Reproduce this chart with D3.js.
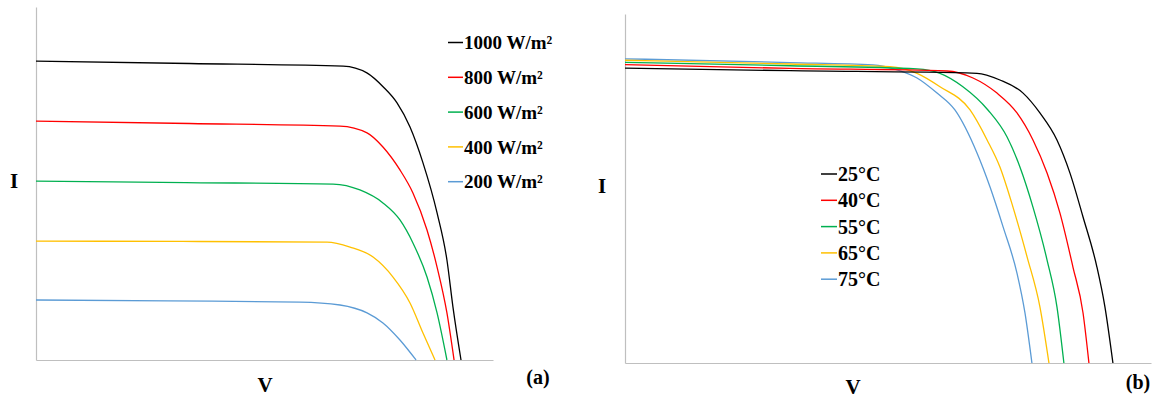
<!DOCTYPE html>
<html>
<head>
<meta charset="utf-8">
<script src="https://cdn.jsdelivr.net/npm/d3@7"></script>
<style>
  html, body { margin: 0; padding: 0; background: #fff; }
  svg { display: block; }
  text { font-family: "Liberation Serif", "Times New Roman", serif; font-weight: bold; fill: #000; }
</style>
</head>
<body>
<svg id="chart" width="1158" height="399"></svg>
<script>
// ---- (a) I-V curves at different irradiance levels (25 °C) ----
const irradianceLabels = ["1000 W/m²", "800 W/m²", "600 W/m²", "400 W/m²", "200 W/m²"];
const irrV1000 = [0, 8.4, 16.8, 18.1, 19.0, 19.75, 20.46, 21.17, 21.94, 22.48, 22.81, 23.25];
const irrI1000 = [10.16, 10.08, 9.99, 9.76, 9.28, 8.74, 7.92, 6.70, 5.00, 3.40, 1.80, 0];
const irrV800  = [0, 8.4, 16.63, 18.11, 18.98, 19.91, 20.62, 21.39, 21.94, 22.48, 22.87];
const irrI800  = [8.12, 8.04, 7.95, 7.72, 7.24, 6.46, 5.68, 4.42, 3.16, 1.60, 0];
const irrV600  = [0, 8.2, 16.25, 17.72, 18.98, 19.91, 20.62, 21.39, 21.94, 22.48];
const irrI600  = [6.08, 6.03, 5.98, 5.78, 5.34, 4.76, 3.98, 2.82, 1.60, 0];
const irrV400  = [0, 8.0, 15.92, 17.18, 18.44, 19.53, 20.46, 21.17, 21.83];
const irrI400  = [4.04, 4.03, 4.01, 3.84, 3.50, 2.82, 1.94, 0.92, 0];
const irrV200  = [0, 7.2, 14.44, 16.63, 18.11, 18.98, 19.91, 20.79];
const irrI200  = [2.04, 2.01, 1.97, 1.87, 1.60, 1.26, 0.68, 0];

// ---- (b) I-V curves at different cell temperatures (1000 W/m²) ----
const temperatureLabels = ["25°C", "40°C", "55°C", "65°C", "75°C"];
const tmpV25 = [0, 7.84, 16.73, 17.82, 18.92, 19.72, 20.53, 21.15, 21.77, 22.43, 22.81, 23.19];
const tmpI25 = [10.14, 10.05, 9.96, 9.73, 9.28, 8.60, 7.67, 6.53, 5.02, 3.30, 1.93, 0];
const tmpV40 = [0, 7.84, 15.30, 16.54, 17.68, 18.63, 19.39, 20.06, 20.67, 21.29, 21.77, 22.05];
const tmpI40 = [10.26, 10.13, 10.04, 9.80, 9.28, 8.60, 7.67, 6.53, 5.16, 3.30, 1.72, 0];
const tmpV55 = [0, 7.84, 13.88, 14.97, 16.06, 17.25, 18.16, 18.77, 19.39, 20.06, 20.53, 20.86];
const tmpI55 = [10.34, 10.22, 10.11, 9.96, 9.50, 8.70, 7.77, 6.74, 5.36, 3.54, 1.93, 0];
const tmpV65 = [0, 7.84, 12.60, 13.88, 14.97, 16.40, 17.21, 17.82, 18.44, 19.11, 19.72, 20.15];
const tmpI65 = [10.41, 10.28, 10.19, 9.96, 9.50, 8.70, 7.67, 6.74, 5.36, 3.65, 1.93, 0];
const tmpV75 = [0, 7.84, 11.79, 12.93, 13.88, 14.83, 15.68, 16.73, 17.35, 17.97, 18.63, 19.01, 19.34];
const tmpI75 = [10.46, 10.33, 10.25, 10.08, 9.80, 9.28, 8.70, 7.22, 6.05, 4.68, 3.09, 1.72, 0];

const seriesColors = ["#000000", "#ff0000", "#00b050", "#ffc000", "#5b9bd5"];

const zipCurve = (vs, is) => vs.map((v, k) => ({ v, i: is[k] }));

const panels = [
  {
    tag: "(a)",
    box: { left: 36, right: 493, top: 7, bottom: 360 },
    vMax: 25, iMax: 12,
    curves: [
      zipCurve(irrV1000, irrI1000), zipCurve(irrV800, irrI800), zipCurve(irrV600, irrI600),
      zipCurve(irrV400, irrI400), zipCurve(irrV200, irrI200)
    ],
    labels: irradianceLabels,
    legend: { x: 448, y: 42.5, step: 34.8, line: 15, font: 19 },
    yLabel: { x: 14, y: 188 },
    xLabel: { x: 265, y: 392 },
    tagPos: { x: 538, y: 384 }
  },
  {
    tag: "(b)",
    box: { left: 625, right: 1151, top: 14, bottom: 363 },
    vMax: 25, iMax: 12,
    curves: [
      zipCurve(tmpV25, tmpI25), zipCurve(tmpV40, tmpI40), zipCurve(tmpV55, tmpI55),
      zipCurve(tmpV65, tmpI65), zipCurve(tmpV75, tmpI75)
    ],
    labels: temperatureLabels,
    legend: { x: 821, y: 174, step: 26.3, line: 16, font: 20 },
    yLabel: { x: 602, y: 193 },
    xLabel: { x: 853, y: 394 },
    tagPos: { x: 1138, y: 389 }
  }
];

const svg = d3.select("#chart");

panels.forEach(p => {
  const x = d3.scaleLinear().domain([0, p.vMax]).range([p.box.left, p.box.right]);
  const y = d3.scaleLinear().domain([0, p.iMax]).range([p.box.bottom, p.box.top]);
  const g = svg.append("g");

  // axes: plain light-gray lines without ticks
  const xAxis = d3.axisBottom(x).tickValues([]).tickSizeOuter(0);
  const yAxis = d3.axisLeft(y).tickValues([]).tickSizeOuter(0);
  g.append("g").attr("transform", `translate(0,${p.box.bottom})`).call(xAxis)
    .select(".domain").attr("stroke", "#bfbfbf").attr("stroke-width", 1.2);
  g.append("g").attr("transform", `translate(${p.box.left},0)`).call(yAxis)
    .select(".domain").attr("stroke", "#bfbfbf").attr("stroke-width", 1.2);

  const line = d3.line()
    .x(d => x(d.v))
    .y(d => y(d.i))
    .curve(d3.curveMonotoneX);

  // draw lowest series first so the top curve sits on top
  p.curves.slice().reverse().forEach((c, k) => {
    const idx = p.curves.length - 1 - k;
    g.append("path")
      .datum(c)
      .attr("fill", "none")
      .attr("stroke", seriesColors[idx])
      .attr("stroke-width", 1.3)
      .attr("stroke-linejoin", "round")
      .attr("d", line);
  });

  // legend
  const lg = g.append("g");
  p.labels.forEach((lab, k) => {
    const cy = p.legend.y + k * p.legend.step;
    lg.append("line")
      .attr("x1", p.legend.x).attr("x2", p.legend.x + p.legend.line)
      .attr("y1", cy).attr("y2", cy)
      .attr("stroke", seriesColors[k]).attr("stroke-width", 1.5);
    lg.append("text")
      .attr("x", p.legend.x + p.legend.line + 1)
      .attr("y", cy)
      .attr("dy", "0.35em")
      .style("font-size", p.legend.font + "px")
      .text(lab);
  });

  // axis titles and panel tag
  g.append("text").attr("x", p.yLabel.x).attr("y", p.yLabel.y)
    .attr("text-anchor", "middle").style("font-size", "21px").text("I");
  g.append("text").attr("x", p.xLabel.x).attr("y", p.xLabel.y)
    .attr("text-anchor", "middle").style("font-size", "21px").text("V");
  g.append("text").attr("x", p.tagPos.x).attr("y", p.tagPos.y)
    .attr("text-anchor", "middle").style("font-size", "20px").text(p.tag);
});
</script>
</body>
</html>
